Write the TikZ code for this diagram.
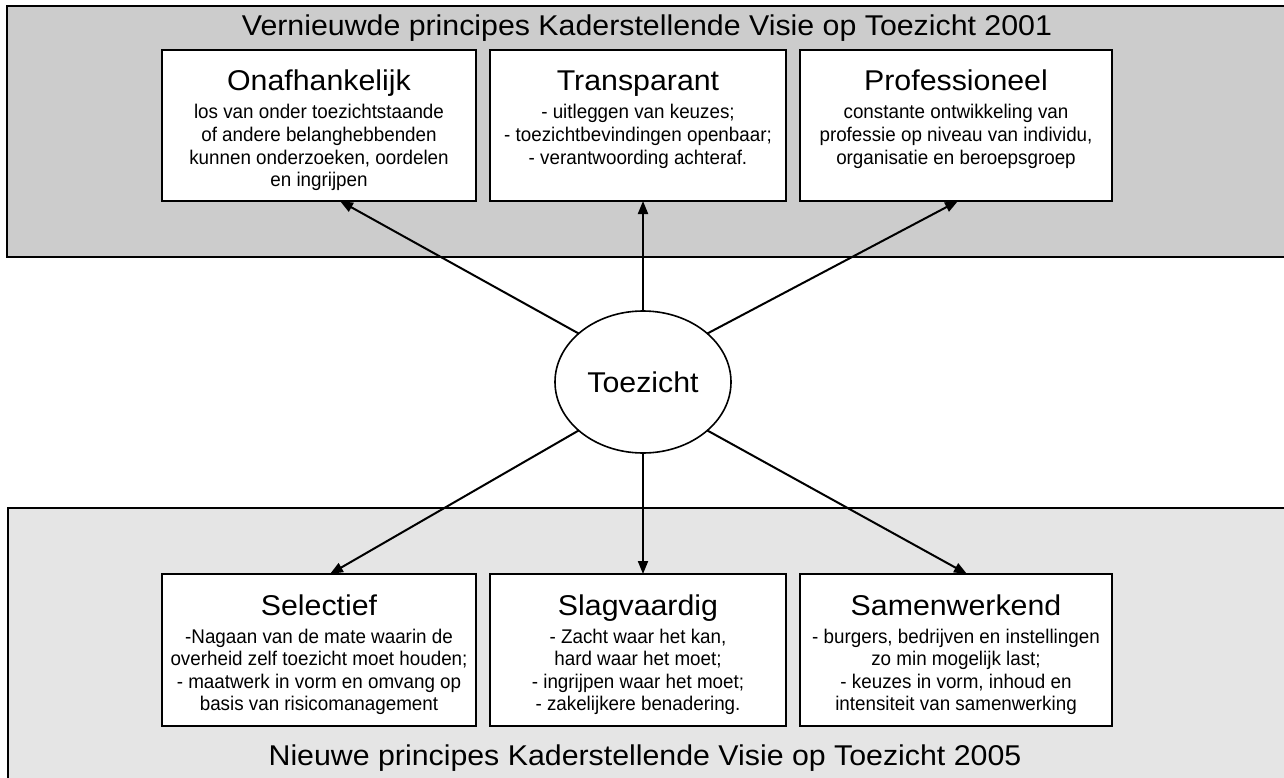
\documentclass[tikz,border=0pt]{standalone}
\usepackage{fontspec}
\setmainfont{Liberation Sans}[FakeStretch=1.06]
\newfontfamily\bodyfam{Liberation Sans}[FakeStretch=0.95]
\usetikzlibrary{shapes.geometric,arrows.meta,calc}
\definecolor{topgray}{gray}{0.8}
\definecolor{botgray}{gray}{0.9}
\newcommand{\boxlines}[1]{\begin{tabular}[t]{@{}c@{}}#1\end{tabular}}
\tikzset{
  panel/.style={draw=black, line width=2pt, inner sep=0pt, outer sep=0pt, anchor=north west},
  pbox/.style={draw=black, fill=white, line width=1.6pt, inner sep=0pt, outer sep=0pt, anchor=north west},
  bigtext/.style={font=\fontsize{28.6}{34}\selectfont, anchor=base, inner sep=0pt},
  bodytext/.style={font=\bodyfam\fontsize{19.8}{22.6}\selectfont, anchor=base, inner sep=0pt},
  conn/.style={line width=2pt, -{Triangle[length=13pt,width=10pt]}},
}
\begin{document}
\begin{tikzpicture}[x=1pt,y=-1pt]
\useasboundingbox (0,0) rectangle (1284,778);
\fill[white] (0,0) rectangle (1284,778);
% panels
\node[panel, fill=topgray, minimum width=1290pt, minimum height=251pt] (toppanel) at (7,6) {};
\node[panel, fill=botgray, minimum width=1290pt, minimum height=290pt] (botpanel) at (8,508) {};
\node[bigtext] (toptitle) at (647,36) {Vernieuwde principes Kaderstellende Visie op Toezicht 2001};
\node[bigtext] (bottitle) at (645,765) {Nieuwe principes Kaderstellende Visie op Toezicht 2005};
% top boxes
\node[pbox, minimum width=314pt, minimum height=151pt] (onaf) at (162,50) {};
\node[pbox, minimum width=296pt, minimum height=151pt] (transp) at (490,50) {};
\node[pbox, minimum width=312pt, minimum height=151pt] (prof) at (800,50) {};
% bottom boxes
\node[pbox, minimum width=314pt, minimum height=152pt] (sel) at (162,574) {};
\node[pbox, minimum width=296pt, minimum height=152pt] (slag) at (490,574) {};
\node[pbox, minimum width=312pt, minimum height=152pt] (samen) at (800,574) {};
% box titles
\node[bigtext] (onafT) at ($(onaf.north)+(0,41)$) {Onafhankelijk};
\node[bigtext] (transpT) at ($(transp.north)+(0,41)$) {Transparant};
\node[bigtext] (profT) at ($(prof.north)+(0,41)$) {Professioneel};
\node[bigtext] (selT) at ($(sel.north)+(0,41)$) {Selectief};
\node[bigtext] (slagT) at ($(slag.north)+(0,41)$) {Slagvaardig};
\node[bigtext] (samenT) at ($(samen.north)+(0,41)$) {Samenwerkend};
% box bodies
\node[bodytext] (onafB) at ($(onaf.north)+(0,69)$) {\boxlines{los van onder toezichtstaande\\of andere belanghebbenden\\kunnen onderzoeken, oordelen\\en ingrijpen}};
\node[bodytext] (transpB) at ($(transp.north)+(0,69)$) {\boxlines{- uitleggen van keuzes;\\- toezichtbevindingen openbaar;\\- verantwoording achteraf.}};
\node[bodytext] (profB) at ($(prof.north)+(0,69)$) {\boxlines{constante ontwikkeling van\\professie op niveau van individu,\\organisatie en beroepsgroep}};
\node[bodytext] (selB) at ($(sel.north)+(0,69)$) {\boxlines{-Nagaan van de mate waarin de\\overheid zelf toezicht moet houden;\\- maatwerk in vorm en omvang op\\basis van risicomanagement}};
\node[bodytext] (slagB) at ($(slag.north)+(0,69)$) {\boxlines{- Zacht waar het kan,\\hard waar het moet;\\- ingrijpen waar het moet;\\- zakelijkere benadering.}};
\node[bodytext] (samenB) at ($(samen.north)+(0,69)$) {\boxlines{- burgers, bedrijven en instellingen\\zo min mogelijk last;\\- keuzes in vorm, inhoud en\\intensiteit van samenwerking}};
% centre
\node[ellipse, draw=black, fill=white, line width=1.6pt, minimum width=176pt, minimum height=142pt, inner sep=0pt, outer sep=0pt, font=\fontsize{28.6}{34}\selectfont] (T) at (643,382) {Toezicht};
% connectors
\draw[conn] (T.143) -- ([xshift=21pt]onaf.south);
\draw[conn] (T.north) -- ([xshift=5pt]transp.south);
\draw[conn] (T.37) -- ([xshift=2pt]prof.south);
\draw[conn] (T.217) -- ([xshift=11pt]sel.north);
\draw[conn] (T.south) -- ([xshift=5pt]slag.north);
\draw[conn] (T.323) -- ([xshift=11pt]samen.north);
\end{tikzpicture}
\end{document}
